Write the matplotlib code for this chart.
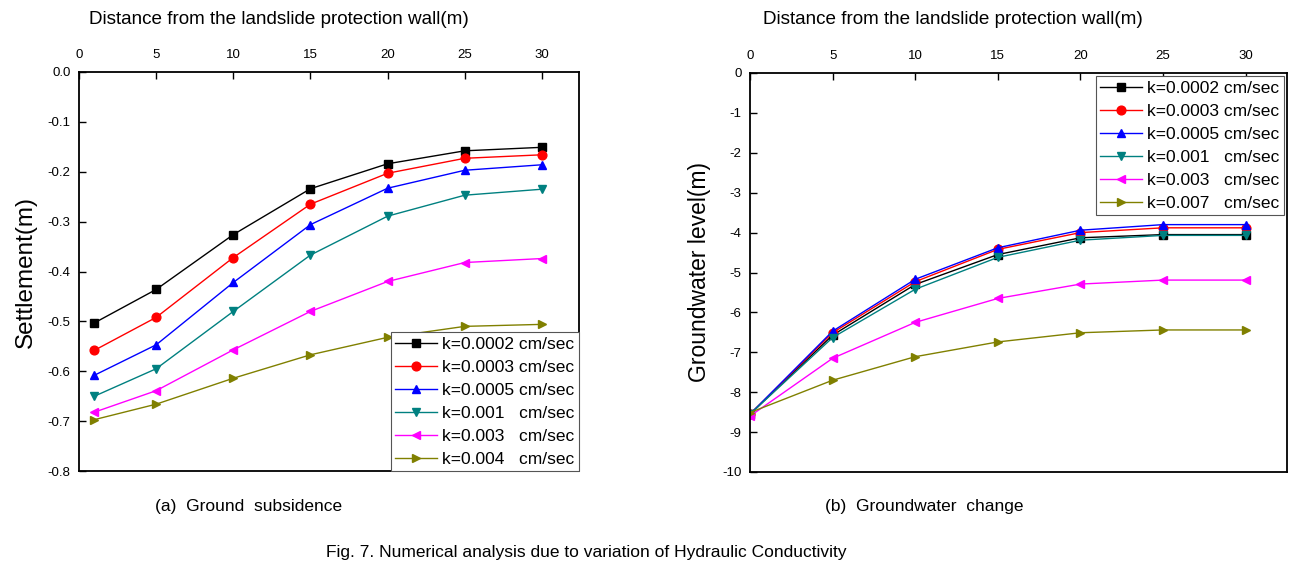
import matplotlib
matplotlib.use('Agg')
import matplotlib.pyplot as plt
import numpy as np

plt.rcParams['font.family'] = ['Liberation Sans', 'DejaVu Sans']
plt.rcParams['axes.unicode_minus'] = False

# distances (m)
dist_a = [1, 5, 10, 15, 20, 25, 30]
dist_b = [0, 5, 10, 15, 20, 25, 30]

# (a) settlement (m)
settle_k0002 = [-0.503, -0.436, -0.326, -0.234, -0.184, -0.158, -0.151]
settle_k0003 = [-0.558, -0.492, -0.372, -0.265, -0.203, -0.173, -0.166]
settle_k0005 = [-0.608, -0.547, -0.422, -0.306, -0.233, -0.197, -0.186]
settle_k001 = [-0.650, -0.595, -0.480, -0.367, -0.289, -0.247, -0.235]
settle_k003 = [-0.682, -0.639, -0.557, -0.480, -0.420, -0.382, -0.374]
settle_k004 = [-0.697, -0.666, -0.614, -0.567, -0.532, -0.510, -0.506]

# (b) groundwater level (m)
gw_k0002 = [-8.55, -6.57, -5.30, -4.55, -4.13, -4.05, -4.05]
gw_k0003 = [-8.55, -6.51, -5.23, -4.42, -4.00, -3.88, -3.88]
gw_k0005 = [-8.55, -6.47, -5.17, -4.38, -3.94, -3.80, -3.80]
gw_k001 = [-8.55, -6.63, -5.42, -4.62, -4.19, -4.07, -4.07]
gw_k003 = [-8.60, -7.15, -6.25, -5.65, -5.29, -5.19, -5.19]
gw_k007 = [-8.51, -7.70, -7.11, -6.74, -6.51, -6.44, -6.44]

labels_a = ['k=0.0002 cm/sec', 'k=0.0003 cm/sec', 'k=0.0005 cm/sec',
            'k=0.001   cm/sec', 'k=0.003   cm/sec', 'k=0.004   cm/sec']
labels_b = ['k=0.0002 cm/sec', 'k=0.0003 cm/sec', 'k=0.0005 cm/sec',
            'k=0.001   cm/sec', 'k=0.003   cm/sec', 'k=0.007   cm/sec']

yticks_a = [0.0, -0.1, -0.2, -0.3, -0.4, -0.5, -0.6, -0.7, -0.8]
yticklabels_a = ['0.0', '-0.1', '-0.2', '-0.3', '-0.4', '-0.5', '-0.6', '-0.7', '-0.8']

colors = ['#000000', '#ff0000', '#0000ff', '#008080', '#ff00ff', '#808000']
markers = ['s', 'o', '^', 'v', '<', '>']

fig = plt.figure(figsize=(13.07, 5.71), dpi=100)
ax_a = fig.add_axes([79/1307, 100/571, 500/1307, 399/571])
ax_b = fig.add_axes([750/1307, 99/571, 537/1307, 399/571])


def style_axis(ax):
    ax.xaxis.tick_top()
    ax.tick_params(axis='x', direction='in', length=5, width=1, labelsize=9.5, pad=8)
    ax.tick_params(axis='y', direction='in', length=5, width=1, labelsize=9.5, pad=6)
    for sp in ax.spines.values():
        sp.set_linewidth(1.3)
    ax.set_xticks([0, 5, 10, 15, 20, 25, 30])


def add_legend(ax, loc, pad):
    leg = ax.legend(loc=loc, fontsize=12.5, borderaxespad=pad, handlelength=2.4,
                    handletextpad=0.3, labelspacing=0.45, borderpad=0.25, fancybox=False,
                    framealpha=1, edgecolor='#555555')
    leg.get_frame().set_linewidth(0.8)


series_a = [settle_k0002, settle_k0003, settle_k0005, settle_k001, settle_k003, settle_k004]
for y, c, m, lab in zip(series_a, colors, markers, labels_a):
    ax_a.plot(dist_a, y, color=c, marker=m, markersize=6.3, linewidth=1.0, label=lab)
style_axis(ax_a)
ax_a.set_xlim(0, 32.4)
ax_a.set_ylim(-0.8, 0.0)
ax_a.set_yticks(yticks_a)
ax_a.set_yticklabels(yticklabels_a)
ax_a.set_ylabel('Settlement(m)', fontsize=17.5, labelpad=8)
add_legend(ax_a, 'lower right', 0)

series_b = [gw_k0002, gw_k0003, gw_k0005, gw_k001, gw_k003, gw_k007]
for y, c, m, lab in zip(series_b, colors, markers, labels_b):
    ax_b.plot(dist_b, y, color=c, marker=m, markersize=6.3, linewidth=1.0, label=lab)
style_axis(ax_b)
ax_b.set_xlim(0, 32.5)
ax_b.set_ylim(-10, 0)
ax_b.set_yticks(range(-10, 1))
ax_b.set_ylabel('Groundwater level(m)', fontsize=16.5, labelpad=8)
add_legend(ax_b, 'upper right', 0.2)

fig.text(279/1307, 1 - 20/571, 'Distance from the landslide protection wall(m)',
         ha='center', va='center', fontsize=13.6)
fig.text(953/1307, 1 - 20/571, 'Distance from the landslide protection wall(m)',
         ha='center', va='center', fontsize=13.6)

fig.text(249/1307, 1 - 506/571, '(a)  Ground  subsidence', ha='center', va='center', fontsize=12.5)
fig.text(924/1307, 1 - 506/571, '(b)  Groundwater  change', ha='center', va='center', fontsize=12.5)
fig.text(586/1307, 1 - 553/571, 'Fig. 7. Numerical analysis due to variation of Hydraulic Conductivity',
         ha='center', va='center', fontsize=12.5)

fig.savefig('out.png', dpi=100)
